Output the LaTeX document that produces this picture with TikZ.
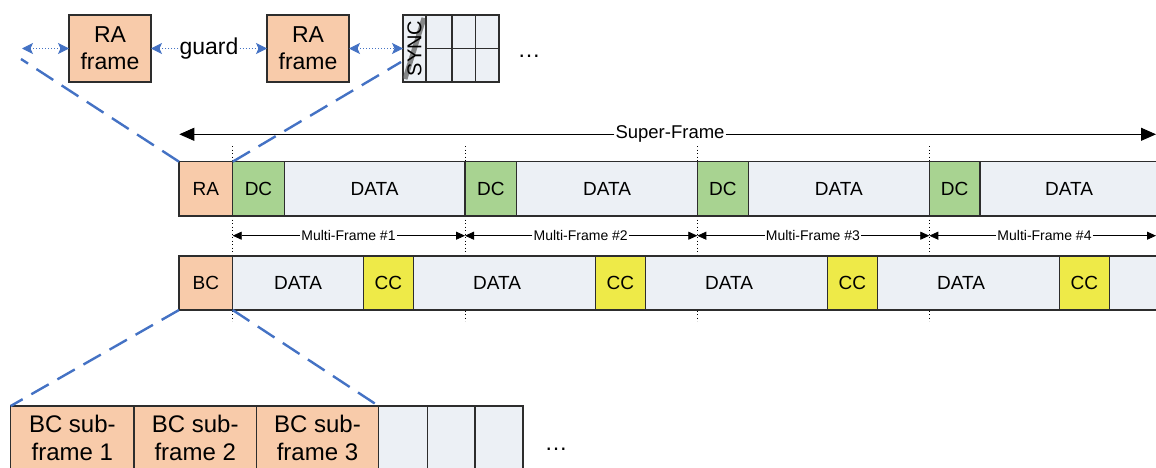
\documentclass[tikz,border=0pt]{standalone}
\usepackage{fontspec}
\usepackage{graphicx}
\setmainfont{Liberation Sans}
\usetikzlibrary{arrows.meta}
\definecolor{salmon}{RGB}{248,203,170}
\definecolor{dcgreen}{RGB}{168,211,145}
\definecolor{datafill}{RGB}{236,240,245}
\definecolor{ccyellow}{RGB}{238,234,72}
\definecolor{lineblue}{RGB}{68,114,196}
\definecolor{edge}{RGB}{45,45,45}
% #1 name, #2 x1, #3 y1, #4 x2, #5 y2, #6 style, #7 text
\newcommand\cellbox[7]{\node[cell,#6,minimum width={(#4-#2)*1pt},minimum height={(#5-#3)*1pt}] (#1) at ({(#2+#4)/2},{(#3+#5)/2}) {#7};}
\begin{document}
\begin{tikzpicture}[x=1pt,y=-1pt,
  cell/.style={draw=edge,line width=1.4pt,inner sep=0pt,outer sep=0pt},
  rafill/.style={fill=salmon},
  dcfill/.style={fill=dcgreen},
  datfill/.style={fill=datafill},
  ccfill/.style={fill=ccyellow},
  lbl/.style={font=\fontsize{19}{22}\selectfont},
  big/.style={font=\fontsize{23}{27}\selectfont,align=center},
  bigger/.style={font=\fontsize{24}{28}\selectfont,align=center},
  zoomline/.style={lineblue,line width=2.4pt,dash pattern=on 20pt off 10pt},
  blink/.style={lineblue,line width=1pt,dotted,{Stealth[length=11pt,width=11pt,inset=2.5pt]}-{Stealth[length=11pt,width=11pt,inset=2.5pt]}},
  blinkr/.style={lineblue,line width=1pt,dotted,-{Stealth[length=11pt,width=11pt,inset=2.5pt]}},
  vdot/.style={black,line width=0.9pt,dash pattern=on 0.9pt off 2.6pt},
  sfarrow/.style={black,line width=1pt,-{Triangle[length=15pt,width=13pt]}},
  mfarrow/.style={black,line width=0.8pt,-{Triangle[length=9pt,width=8pt]}},
  midtext/.style={fill=white,inner sep=1pt},
  hatch/.style={black!65,line width=5pt,opacity=0.7}
]
\useasboundingbox (0,0) rectangle (1156,468);
\clip (0,0) rectangle (1156,468);

% ---------- top detail: RA frames and guard ----------
\cellbox{raf1}{69}{15}{151}{82}{rafill,big}{RA\\frame}
\cellbox{raf2}{267}{15}{349}{82}{rafill,big}{RA\\frame}
\cellbox{syncc}{403}{15}{426}{82}{datfill}{}
\coordinate (hb) at (405,79);
\coordinate (ht) at (424,18);
\draw[hatch] (hb) -- (ht);
\node[font=\fontsize{20}{22}\selectfont,inner sep=0pt] (synct) at (syncc.center) {\rotatebox{90}{SYNC}};
\foreach \a/\b [count=\i] in {426/452,452/475.5,475.5/499}{
  \cellbox{gu\i}{\a}{15}{\b}{48.5}{datfill}{}
  \cellbox{gl\i}{\a}{48.5}{\b}{82}{datfill}{}
}
\node[font=\fontsize{23}{27}\selectfont,anchor=base,inner sep=0pt] (dots1) at (529,57.5) {…};
\node[midtext,font=\fontsize{23}{27}\selectfont] (guard) at (209,48.5) {guard};
\coordinate (lft) at (22,48.5);
\draw[blink] (lft) -- (raf1.west);
\draw[blinkr] (guard.west) -- (raf1.east);
\draw[blinkr] (guard.east) -- (raf2.west);
\draw[blink] (raf2.east) -- (raf2.east -| syncc.west);

% ---------- vertical dotted markers ----------
\foreach \x [count=\i] in {232.7,465,697.3,929.3}{
  \coordinate (vt\i) at (\x,146);
  \coordinate (vb\i) at (\x,321);
  \draw[vdot] (vt\i) -- (vb\i);
}
\coordinate (vt5) at (1156,146);

% ---------- super-frame row ----------
\node[midtext,font=\fontsize{18.5}{22}\selectfont] (sf) at (670,134.3) {Super-Frame};
\coordinate (sfl) at (179.3,134.3);
\coordinate (sfr) at (1156,134.3);
\draw[sfarrow] (sf.west) -- (sfl);
\draw[sfarrow] (sf.east) -- (sfr);

\cellbox{ra}{179}{161.7}{232.7}{216}{rafill,lbl}{RA}
\foreach \a/\b/\c [count=\i] in {232.7/284.3/465,465/516.7/697.3,697.3/748.3/929.3,929.3/980/1158}{
  \cellbox{dc\i}{\a}{161.7}{\b}{216}{dcfill,lbl}{DC}
  \cellbox{data\i}{\b}{161.7}{\c}{216}{datfill,lbl}{DATA}
}

% ---------- multi-frame arrows ----------
\foreach \cx [count=\i] in {348.5,580.7,812.9,1044.5}{
  \pgfmathtruncatemacro\j{\i+1}
  \node[midtext,font=\fontsize{14}{16}\selectfont] (mf\i) at (\cx,235.7) {Multi-Frame \#\i};
  \draw[mfarrow] (mf\i.west) -- (vt\i |- mf\i.west);
  \draw[mfarrow] (mf\i.east) -- (vt\j |- mf\i.east);
}

% ---------- broadcast row ----------
\cellbox{bc}{179}{256}{232.7}{310}{rafill,lbl}{BC}
\foreach \a/\b/\t [count=\i] in {232.7/363.3/298,413.3/595.3/497,645.3/827.3/729,877.3/1059.3/961}{
  \cellbox{bd\i}{\a}{256}{\b}{310}{datfill}{}
  \node[lbl,inner sep=0pt] (bdt\i) at (\t,283) {DATA};
}
\foreach \a/\b [count=\i] in {363.3/413.3,595.3/645.3,827.3/877.3,1059.3/1109.3}{
  \cellbox{cc\i}{\a}{256}{\b}{310}{ccfill,lbl}{CC}
}
\cellbox{bd5}{1109.3}{256}{1170}{310}{datfill}{}

% ---------- bottom detail: BC sub-frames ----------
\cellbox{bs1}{10.7}{406}{134}{470}{rafill,bigger}{BC sub-\\frame 1}
\cellbox{bs2}{134}{406}{256.4}{470}{rafill,bigger}{BC sub-\\frame 2}
\cellbox{bs3}{256.4}{406}{378.6}{470}{rafill,bigger}{BC sub-\\frame 3}
\foreach \a/\b [count=\i] in {378.6/427.5,427.5/475,475/523}{
  \cellbox{be\i}{\a}{406}{\b}{470}{datfill}{}
}
\node[font=\fontsize{23}{27}\selectfont,anchor=base,inner sep=0pt] (dots2) at (556,450) {…};

% ---------- zoom (dashed) lines ----------
\coordinate (zl) at (21,59);
\coordinate (zr) at (401,62);
\draw[zoomline] (ra.north west) -- (zl);
\draw[zoomline] (ra.north east) -- (zr);
\draw[zoomline] (bc.south west) -- (bs1.north west);
\draw[zoomline] (bc.south east) -- (bs3.north east);
\end{tikzpicture}
\end{document}
